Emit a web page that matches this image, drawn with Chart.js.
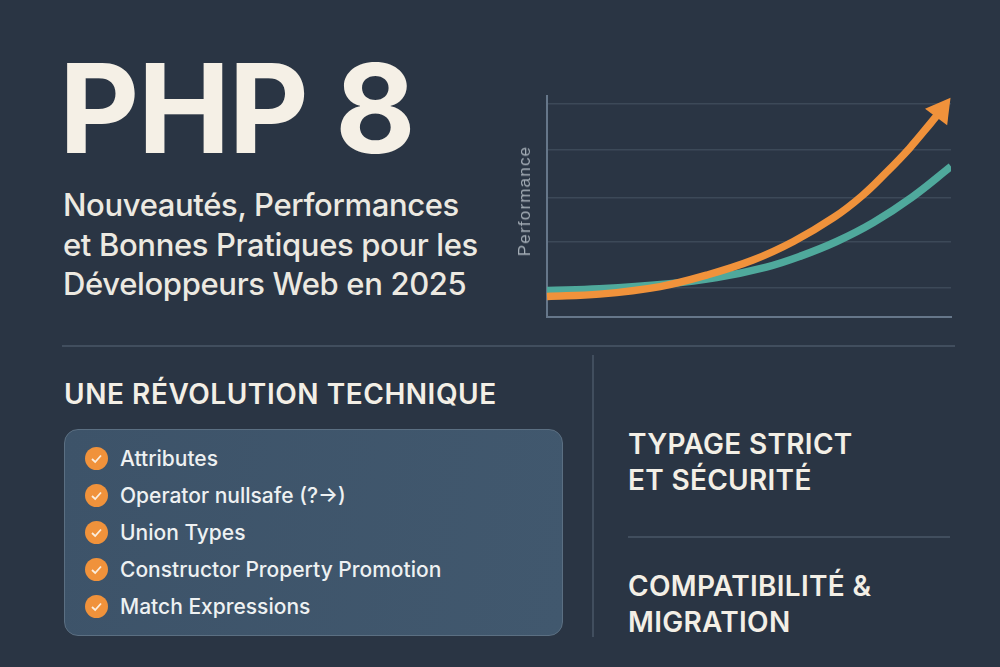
<!DOCTYPE html>
<html lang="fr">
<head>
<meta charset="utf-8">
<title>PHP 8</title>
<script src="https://cdn.jsdelivr.net/npm/chart.js@4"></script>
<style>
  html, body { margin: 0; padding: 0; }
  body { width: 1000px; height: 667px; position: relative; overflow: hidden; background: #2a3544; font-family: Inter, sans-serif; color: #f3efe6; }
  .abs { position: absolute; white-space: nowrap; }
  #title { left: 59px; top: 33px; font-size: 124px; line-height: 150px; font-weight: 700; letter-spacing: -1.7px; color: #f5f0e6; }
  .sub { left: 63px; font-size: 31px; line-height: 40px; font-weight: 450; letter-spacing: -0.35px; color: #ece9e1; }
  .head { font-size: 28px; line-height: 36px; font-weight: 600; letter-spacing: 0.3px; color: #f3efe6; }
  .rule { position: absolute; background: #414e5e; }
  #panel { position: absolute; left: 64px; top: 429px; width: 497px; height: 205px; border-radius: 14px; border: 1px solid #5b6f82; background: linear-gradient(100deg, #3d5369, #41586e); }
  .item { left: 120px; font-size: 21px; line-height: 30px; font-weight: 500; color: #eef1f2; }
  .tick { position: absolute; left: 85px; width: 23px; height: 23px; border-radius: 50%; background: #f0923b; }
  .tick svg { display: block; }
  #chartBox { position: absolute; left: 500px; top: 80px; width: 470px; height: 260px; }
  #axisTitle { left: 525px; top: 201px; transform: translate(-50%, -50%) rotate(-90deg); font-size: 17px; letter-spacing: 1.2px; color: #a3acb5; font-family: "Liberation Sans", sans-serif; }
</style>
</head>
<body>
<div class="abs" id="title">PHP 8</div>
<div class="abs sub" style="top:185px">Nouveautés, Performances</div>
<div class="abs sub" style="top:225px">et Bonnes Pratiques pour les</div>
<div class="abs sub" style="top:264px">Développeurs Web en 2025</div>

<div id="chartBox"><canvas id="chart-perf"></canvas></div>
<div class="abs" id="axisTitle">Performance</div>

<div class="rule" style="left:62px;top:345px;width:893px;height:2px"></div>
<div class="rule" style="left:592px;top:355px;width:2px;height:282px"></div>
<div class="rule" style="left:628px;top:536px;width:322px;height:2px"></div>

<div class="abs head" style="left:64px;top:376px;letter-spacing:0.55px">UNE RÉVOLUTION TECHNIQUE</div>
<div id="panel"></div>
<div id="list"></div>

<div class="abs head" style="left:628px;top:426px">TYPAGE STRICT</div>
<div class="abs head" style="left:628px;top:462px">ET SÉCURITÉ</div>
<div class="abs head" style="left:628px;top:568px">COMPATIBILITÉ &amp;</div>
<div class="abs head" style="left:628px;top:604px">MIGRATION</div>

<script>
// chart data
var orangeX = [0, 13, 28, 39.5, 51, 61, 71, 78, 84, 89.7, 95, 97.5];
var orangeY = [9, 10, 13.3, 18.3, 24.9, 33, 43.5, 53, 63.2, 73.7, 84.8, 90.2];
var tealX = [0, 13, 29.6, 42, 54.3, 62.6, 71.7, 80.8, 90.3, 100];
var tealY = [11.6, 12.3, 14.4, 17.2, 21.8, 26.5, 33, 41.3, 52.3, 65.8];
var gridValues = [12.7, 33, 52.3, 73, 93];
var listItems = ["Attributes", "Operator nullsafe (?→)", "Union Types", "Constructor Property Promotion", "Match Expressions"];
var listTops = [444, 481, 518, 555, 592];

// feature list
var list = document.getElementById("list");
listItems.forEach(function (text, i) {
  var row = document.createElement("div");
  row.className = "abs item";
  row.style.top = listTops[i] + "px";
  row.textContent = text;
  list.appendChild(row);

  var tick = document.createElement("div");
  tick.className = "tick";
  tick.style.top = (listTops[i] + 3) + "px";
  tick.innerHTML = '<svg width="23" height="23" viewBox="0 0 23 23"><path d="M7 12 L10.2 15 L16 8.5" fill="none" stroke="#fbeede" stroke-width="1.8"/></svg>';
  list.appendChild(tick);
});

function toPoints(xs, ys) {
  return xs.map(function (x, i) { return { x: x, y: ys[i] }; });
}

var ctx = document.getElementById("chart-perf").getContext("2d");

new Chart(ctx, {
  type: "line",
  data: {
    datasets: [
      {
        label: "PHP 8",
        data: toPoints(orangeX, orangeY),
        borderColor: "#f0923b",
        backgroundColor: "#f0923b",
        borderWidth: 7.5,
        tension: 0.4,
        clip: false,
        // arrow head on the last point only
        pointStyle: "triangle",
        pointRotation: 37,
        pointBorderWidth: 0,
        pointRadius: function (c) {
          return c.dataIndex === orangeX.length - 1 ? 16 : 0;
        },
      },
      {
        label: "PHP 7",
        data: toPoints(tealX, tealY),
        borderColor: "#4fa99c",
        borderWidth: 7.5,
        tension: 0.4,
        pointRadius: 0,
      },
    ],
  },
  options: {
    responsive: true,
    maintainAspectRatio: false,
    animation: false,
    layout: {
      padding: { left: 0, right: 19, top: 15, bottom: 0 },
    },
    plugins: {
      legend: { display: false },
      tooltip: { enabled: false },
    },
    scales: {
      x: {
        type: "linear",
        min: 0,
        max: 100,
        grid: { display: false },
        border: { display: true, color: "#66778a", width: 2 },
        ticks: { display: false },
        afterFit: function (scale) { scale.height = 23; },
      },
      y: {
        min: 0,
        max: 96.6,
        afterBuildTicks: function (scale) {
          scale.ticks = gridValues.map(function (v) { return { value: v }; });
        },
        grid: { color: "#3c4958", lineWidth: 1.5, drawTicks: false },
        border: { display: true, color: "#66778a", width: 2 },
        ticks: { display: false },
        afterFit: function (scale) { scale.width = 47; },
      },
    },
  },
});
</script>
</body>
</html>
